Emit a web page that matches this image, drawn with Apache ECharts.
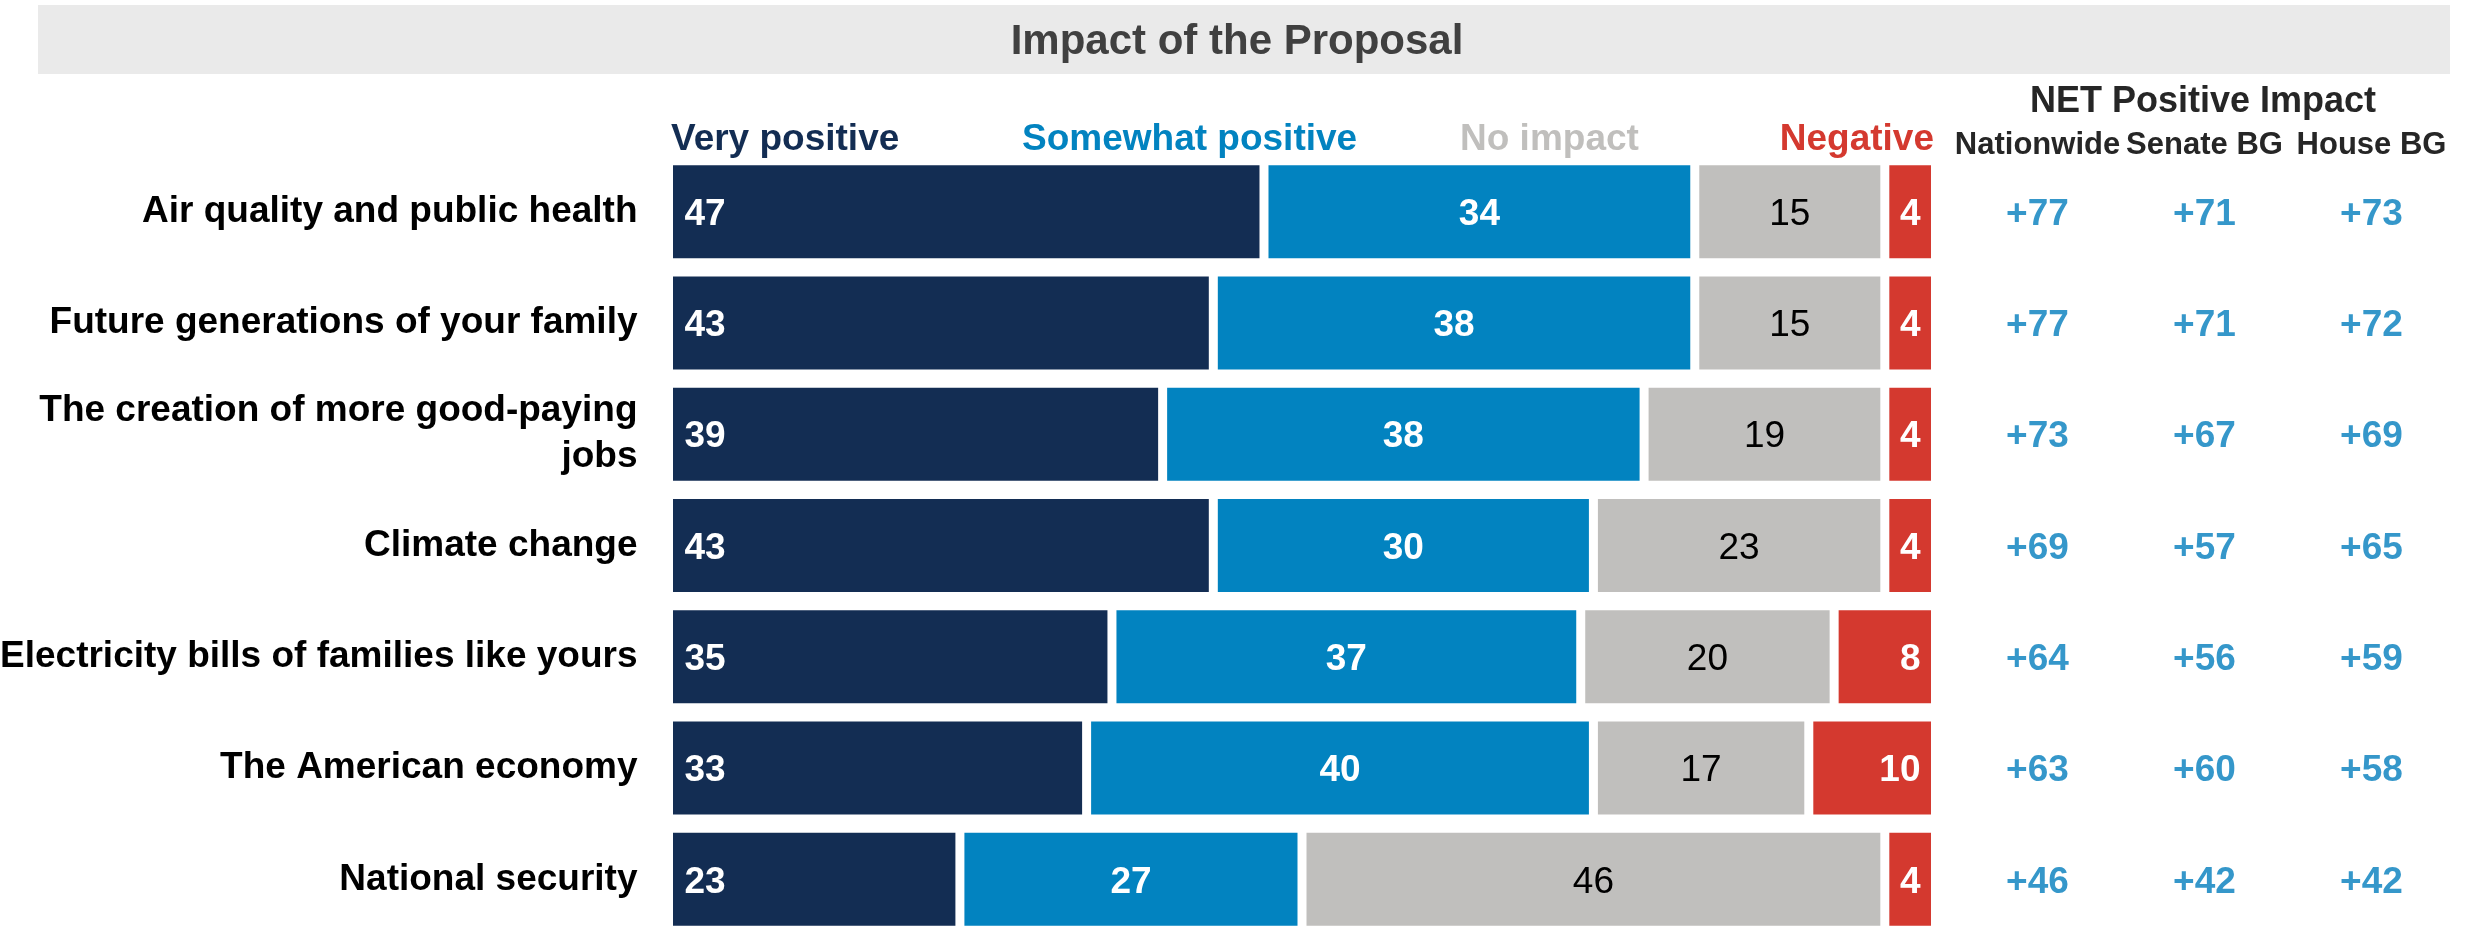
<!DOCTYPE html>
<html>
<head>
<meta charset="utf-8">
<script src="https://cdn.jsdelivr.net/npm/echarts@6/dist/echarts.min.js"></script>
<style>
  html, body { margin: 0; padding: 0; background: #ffffff; }
  #chart { width: 2474px; height: 929px; }
</style>
</head>
<body>
<div id="chart"></div>
<script>
// Survey items, top to bottom
const categories = [
  'Air quality and public health',
  'Future generations of your family',
  'The creation of more good-paying jobs',
  'Climate change',
  'Electricity bills of families like yours',
  'The American economy',
  'National security'
];

// Share of respondents per answer (%)
const veryPositive     = [47, 43, 39, 43, 35, 33, 23];
const somewhatPositive = [34, 38, 38, 30, 37, 40, 27];
const noImpact         = [15, 15, 19, 23, 20, 17, 46];
const negative         = [4, 4, 4, 4, 8, 10, 4];

// NET positive impact by sample
const netColumns    = ['Nationwide', 'Senate BG', 'House BG'];
const netNationwide = [77, 77, 73, 69, 64, 63, 46];
const netSenate     = [71, 71, 67, 57, 56, 60, 42];
const netHouse      = [73, 72, 69, 65, 59, 58, 42];

const answerNames = ['Very positive', 'Somewhat positive', 'No impact', 'Negative'];

const FONT = 'Arial, "Liberation Sans", Helvetica, sans-serif';
const NAVY = '#132D53', BLUE = '#0283C0', GRAY = '#C0BFBD', RED = '#D4392F';
const NET_BLUE = '#037DBD';
const TEXT_SHIFT = 3; // nudge text down so it sits optically centred on the bars

const chart = echarts.init(document.getElementById('chart'), null, { renderer: 'canvas' });

// Word-wrap a category name to a maximum pixel width, without trailing spaces
const measureCtx = document.createElement('canvas').getContext('2d');
function wrapLabel(text, maxWidth, font) {
  measureCtx.font = font;
  const words = text.split(' ');
  const lines = [];
  let line = '';
  words.forEach(w => {
    const trial = line ? line + ' ' + w : w;
    if (line && measureCtx.measureText(trial).width > maxWidth) {
      lines.push(line);
      line = w;
    } else {
      line = trial;
    }
  });
  if (line) lines.push(line);
  return lines.join('\n');
}

const barLabel = (position, distance, color, weight) => ({
  show: true,
  position: position,
  distance: distance,
  offset: [0, TEXT_SHIFT],
  color: color,
  fontFamily: FONT,
  fontSize: 37,
  fontWeight: weight,
  formatter: '{c}'
});

const barBase = {
  type: 'bar',
  stack: 'share',
  xAxisIndex: 0,
  yAxisIndex: 0,
  barWidth: 102,
  emphasis: { disabled: true }
};

const barSeries = [
  { name: answerNames[0], data: veryPositive, color: NAVY, label: barLabel('insideLeft', 16, '#ffffff', 'bold') },
  { name: answerNames[1], data: somewhatPositive, color: BLUE, label: barLabel('inside', 0, '#ffffff', 'bold') },
  { name: answerNames[2], data: noImpact, color: GRAY, label: barLabel('inside', 0, '#000000', 'normal') },
  { name: answerNames[3], data: negative, color: RED, label: barLabel('insideRight', 15, '#ffffff', 'bold') }
].map(s => Object.assign({}, barBase, {
  name: s.name,
  data: s.data,
  label: s.label,
  itemStyle: { color: s.color, borderColor: '#ffffff', borderWidth: 4.5 }
}));

const netSeries = [netNationwide, netSenate, netHouse].map((vals, c) => ({
  type: 'scatter',
  name: netColumns[c],
  xAxisIndex: 1,
  yAxisIndex: 1,
  symbolSize: 1,
  itemStyle: { color: 'rgba(0,0,0,0)' },
  emphasis: { disabled: true },
  data: vals.map((v, r) => [netColumns[c], categories[r], v]),
  label: {
    show: true,
    position: 'inside',
    offset: [0, TEXT_SHIFT],
    color: NET_BLUE,
    fontFamily: FONT,
    fontSize: 37,
    fontWeight: 'bold',
    formatter: p => '+' + p.value[2]
  }
}));

// Answer key above the bars
const legendColors = [NAVY, BLUE, GRAY, RED];
const legendPlaces = [
  { x: 671, align: 'left' },
  { x: 1022, align: 'left' },
  { x: 1460, align: 'left' },
  { x: 1934, align: 'right' }
];
const legendTexts = answerNames.map((n, i) => ({
  type: 'text',
  x: legendPlaces[i].x,
  y: 140,
  style: {
    text: n,
    fill: legendColors[i],
    font: 'bold 37px ' + FONT,
    textAlign: legendPlaces[i].align,
    textVerticalAlign: 'middle'
  }
}));

const categoryFont = 'bold 37px ' + FONT;

const option = {
  animation: false,
  backgroundColor: '#ffffff',
  title: {
    text: 'Impact of the Proposal',
    left: 'center',
    top: 21,
    padding: 0,
    textStyle: { fontFamily: FONT, fontSize: 42, fontWeight: 'bold', color: '#404040' }
  },
  graphic: [
    { type: 'rect', z: -10, shape: { x: 38, y: 5, width: 2412, height: 69 }, style: { fill: '#EAEAEA' } },
    {
      type: 'text', x: 2203, y: 102,
      style: { text: 'NET Positive Impact', fill: '#262626', font: 'bold 36px ' + FONT, textAlign: 'center', textVerticalAlign: 'middle' }
    }
  ].concat(legendTexts),
  grid: [
    { left: 668.5, top: 156, width: 1267, height: 779, containLabel: false, outerBoundsMode: 'none' },
    { left: 1954, top: 156, width: 501, height: 779, containLabel: false, outerBoundsMode: 'none' }
  ],
  xAxis: [
    { type: 'value', gridIndex: 0, min: 0, max: 100, show: false },
    {
      type: 'category', gridIndex: 1, data: netColumns, position: 'top',
      axisLine: { show: false }, axisTick: { show: false }, splitLine: { show: false },
      axisLabel: {
        interval: 0, margin: 11, verticalAlign: 'middle',
        fontFamily: FONT, fontSize: 31, fontWeight: 'bold', color: '#262626'
      }
    }
  ],
  yAxis: [
    {
      type: 'category', gridIndex: 0, data: categories, inverse: true,
      axisLine: { show: false }, axisTick: { show: false }, splitLine: { show: false },
      axisLabel: {
        interval: 0, margin: 31, lineHeight: 46,
        padding: [TEXT_SHIFT * 2, 0, 0, 0],
        fontFamily: FONT, fontSize: 37, fontWeight: 'bold', color: '#000000',
        formatter: v => wrapLabel(v, 660, categoryFont)
      }
    },
    {
      type: 'category', gridIndex: 1, data: categories, inverse: true, show: false
    }
  ],
  series: barSeries.concat(netSeries)
};

chart.setOption(option);
</script>
</body>
</html>
